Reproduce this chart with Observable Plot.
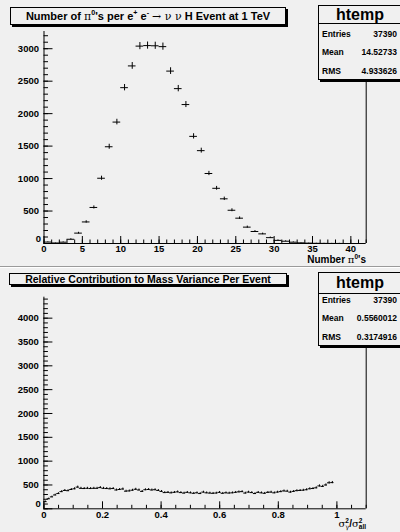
<!DOCTYPE html>
<html><head><meta charset="utf-8">
<script src="https://cdn.jsdelivr.net/npm/d3@7"></script>
<script src="https://cdn.jsdelivr.net/npm/@observablehq/plot@0.6"></script>
<style>
body{margin:0;background:#fff}
#page{position:relative;width:400px;height:532px;background:#f0f0f0;overflow:hidden;font-family:"Liberation Sans",Arial,sans-serif;font-weight:bold;color:#000}
#page svg{position:absolute;left:0}
.box{position:absolute;border:1px solid #000;box-shadow:2px 2px 0 #000;background:#f0f0f0;box-sizing:border-box;text-align:center;white-space:nowrap}
.sym{font-family:"DejaVu Serif","Liberation Serif",serif;font-weight:normal}
sup,sub{font-size:65%;line-height:0}
.stats{position:absolute;border:1px solid #000;box-shadow:2px 2px 0 #000;background:#f0f0f0;box-sizing:border-box}
.stats .hd{font-size:16px;text-align:center;border-bottom:1px solid #000;box-sizing:border-box}
.stats .row{position:absolute;left:3px;right:4px;font-size:8.5px;display:flex;justify-content:space-between}
.lab{position:absolute;white-space:nowrap;font-size:10px}
.stk{display:inline-flex;flex-direction:column;font-size:65%;line-height:0.95;vertical-align:middle;text-align:left}
.sep1{position:absolute;left:0;width:400px;height:1px;background:#9a9a9a}
.sep2{position:absolute;left:0;width:400px;height:1px;background:#ffffff}
</style></head>
<body>
<div id="page"></div>
<script>
// ---- Top histogram: number of pi0 per event (bin centres, counts) ----
const npiCenters = [0.5,1.5,2.5,3.5,4.5,5.5,6.5,7.5,8.5,9.5,10.5,11.5,12.5,13.5,14.5,15.5,16.5,17.5,18.5,19.5,20.5,21.5,22.5,23.5,24.5,25.5,26.5,27.5,28.5,29.5,30.5,31.5,32.5,33.5,34.5,35.5,36.5,37.5,38.5,39.5,40.5,41.5];
const npiCounts  = [22,8,20,65,160,332,555,1005,1490,1870,2400,2735,3040,3048,3045,3032,2655,2385,2140,1650,1430,1078,850,688,512,390,252,185,148,90,48,35,20,10,6,3,2,1,1,0,0,0];
const npiBinWidth = 1;
const topYTicks = [0,500,1000,1500,2000,2500,3000];
const topXTicks = [0,5,10,15,20,25,30,35,40];

// ---- Bottom histogram: relative contribution to mass variance ----
const fracBinWidth = 0.011;
const fracCounts = [150,210,250,290,320,360,385,380,405,420,
 455,430,425,430,425,430,430,445,430,425,
 420,425,395,405,415,370,375,390,410,395,
 365,400,405,395,400,385,365,340,345,335,
 345,355,340,330,345,335,325,335,320,350,
 335,330,325,330,345,325,335,330,335,345,
 355,360,330,350,340,320,345,335,325,345,
 350,335,350,360,375,370,350,365,380,385,
 390,400,420,425,440,480,470,500,545,550];
const botYTicks = [0,500,1000,1500,2000,2500,3000,3500,4000];
const botXTicks = [0,0.2,0.4,0.6,0.8,1];
const botXLabels = ["0","0.2","0.4","0.6","0.8","1"];

const topData = npiCenters.map((c,i)=>({c, lo:c-npiBinWidth/2, hi:c+npiBinWidth/2, v:npiCounts[i]})).filter(d=>d.v>0);
const botData = fracCounts.map((v,i)=>{const c=(i+0.5)*fracBinWidth;return {c, lo:c-fracBinWidth/2, hi:c+fracBinWidth/2, v};});

const FONT = "Liberation Sans, Arial, sans-serif";
function panel({data, xDomain, yDomain, yTicks, yMinor, xTicks, xLabels, xMinor, mt, mb, ml, mr, H}) {
  const W = 400;
  const pw = W - ml - mr, ph = H - mt - mb;
  return Plot.plot({
    width: W, height: H,
    marginTop: mt, marginBottom: mb, marginLeft: ml, marginRight: mr,
    x: {domain: xDomain, axis: null},
    y: {domain: yDomain, axis: null},
    style: {background: "transparent", overflow: "visible"},
    marks: [
      Plot.ruleX([xDomain[0]], {stroke: "#000", strokeWidth: 1}),
      Plot.ruleX([xDomain[1]], {stroke: "#000", strokeWidth: 1}),
      Plot.ruleY([yDomain[0]], {stroke: "#000", strokeWidth: 1}),
      Plot.tickY(yMinor, {y: d => d, insetRight: pw - 4.5, stroke: "#000"}),
      Plot.tickY(yTicks, {y: d => d, insetRight: pw - 9, stroke: "#000"}),
      Plot.tickX(xMinor, {x: d => d, insetTop: ph - 3.5, stroke: "#000"}),
      Plot.tickX(xTicks, {x: d => d, insetTop: ph - 7, stroke: "#000"}),
      Plot.text(yTicks.slice(1), {y: d => d, text: d => String(d), frameAnchor: "left", textAnchor: "end", dx: -5, fontFamily: FONT, fontWeight: "bold", fontSize: 9.5, fill: "#000"}),
      Plot.text([yTicks[0]], {y: d => d, text: d => String(d), frameAnchor: "left", textAnchor: "end", dx: -3, dy: -5, fontFamily: FONT, fontWeight: "bold", fontSize: 9.5, fill: "#000"}),
      Plot.text(xTicks, {x: d => d, text: (d, i) => xLabels[i], frameAnchor: "bottom", lineAnchor: "top", dy: 2, fontFamily: FONT, fontWeight: "bold", fontSize: 9.5, fill: "#000"}),
      Plot.ruleY(data, {y: "v", x1: "lo", x2: "hi", stroke: "#000", strokeWidth: 1}),
      Plot.ruleX(data, {x: "c", y1: d => d.v - Math.sqrt(d.v), y2: d => d.v + Math.sqrt(d.v), stroke: "#000", strokeWidth: 1})
    ]
  });
}

const page = document.getElementById("page");

const topPlot = panel({
  data: topData, xDomain: [0, 42], yDomain: [0, 3265],
  yTicks: topYTicks, yMinor: d3.range(0, 3265, 100),
  xTicks: topXTicks, xLabels: topXTicks.map(String), xMinor: d3.range(0, 43, 1),
  mt: 31, mb: 23, ml: 43.5, mr: 34.3, H: 266
});
topPlot.style.top = "0px";
page.appendChild(topPlot);

const botPlot = panel({
  data: botData, xDomain: [0, 1.1], yDomain: [0, 4440],
  yTicks: botYTicks, yMinor: d3.range(0, 4440, 100),
  xTicks: botXTicks, xLabels: botXLabels, xMinor: d3.range(0, 1.1001, 0.05),
  mt: 30.7, mb: 23.7, ml: 43.4, mr: 34.3, H: 266
});
botPlot.style.top = "266px";
page.appendChild(botPlot);

page.insertAdjacentHTML("beforeend", `
<div class="sep1" style="top:266px"></div>
<div class="sep2" style="top:267px"></div>
<div class="box" style="left:10px;top:7px;width:276px;height:18px;font-size:11px;line-height:16px">Number of <span class="sym">π</span><sup>0</sup>'s per e<sup>+</sup> e<sup>-</sup> <span class="sym">→ ν ν</span> H Event at 1 TeV</div>
<div class="stats" style="left:318px;top:5px;width:84px;height:75px">
  <div class="hd" style="height:18px;line-height:17px">htemp</div>
  <div class="row" style="top:23px"><span>Entries</span><span>37390</span></div>
  <div class="row" style="top:41px"><span>Mean</span><span>14.52733</span></div>
  <div class="row" style="top:60px"><span>RMS</span><span>4.933626</span></div>
</div>
<div class="lab" style="right:34px;top:254px">Number <span class="sym">π</span><sup>0</sup>'s</div>
<div class="box" style="left:9px;top:273px;width:278px;height:12px;font-size:10.5px;line-height:10px">Relative Contribution to Mass Variance Per Event</div>
<div class="stats" style="left:318px;top:272px;width:84px;height:74px">
  <div class="hd" style="height:21px;line-height:19px">htemp</div>
  <div class="row" style="top:22px"><span>Entries</span><span>37390</span></div>
  <div class="row" style="top:40px"><span>Mean</span><span>0.5560012</span></div>
  <div class="row" style="top:59px"><span>RMS</span><span>0.3174916</span></div>
</div>
<div class="lab" style="right:34px;top:517px;font-size:10px;line-height:13px"><span class="sym">σ</span><span class="stk"><span>2</span><span class="sym">γ</span></span>/<span class="sym">σ</span><span class="stk"><span>2</span><span>all</span></span></div>
`);
</script>
</body></html>
